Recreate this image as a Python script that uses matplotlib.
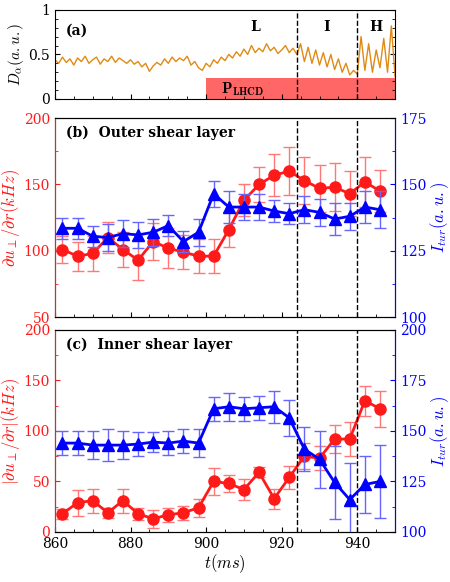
import matplotlib
matplotlib.use("Agg")
import matplotlib.pyplot as plt
import numpy as np

plt.rcParams['font.family'] = 'DejaVu Serif'
plt.rcParams['mathtext.fontset'] = 'cm'

t = [862, 866, 870, 874, 878, 882, 886, 890, 894, 898, 902, 906, 910, 914, 918, 922, 926, 930, 934, 938, 942, 946]

b_red = [101, 96, 98, 110, 101, 93, 107, 102, 99, 96, 96, 116, 138, 150, 157, 160, 153, 147, 148, 143, 152, 145]
b_red_err = [10, 11, 13, 12, 13, 15, 14, 15, 13, 13, 13, 13, 12, 13, 16, 18, 18, 18, 18, 17, 19, 16]
b_blue = [133.5, 133.5, 130.5, 130, 131.5, 131, 132, 134.5, 128.5, 132, 146.5, 141.5, 141.5, 141.5, 140, 139, 140.5, 139.5, 137, 138, 141.5, 140.5]
b_blue_err = [4, 4, 4, 5, 5, 5, 5, 4, 4, 5, 5, 6, 5, 5, 4, 4, 5, 5, 6, 5, 6, 7]

c_red = [18, 29, 31, 19, 31, 18, 13, 17, 19, 24, 50, 48, 42, 59, 33, 54, 75, 73, 92, 92, 130, 122]
c_red_err = [5, 13, 12, 5, 12, 6, 9, 7, 7, 9, 13, 8, 10, 5, 10, 11, 13, 12, 14, 17, 15, 18]
c_blue = [144, 144, 143, 143, 143, 143.5, 144.5, 144, 145, 144, 161, 162, 161, 161.5, 162, 156.5, 141, 136, 124.5, 116, 123.5, 125]
c_blue_err = [6, 6, 7, 8, 7, 6, 5, 6, 6, 7, 6, 7, 6, 6, 8, 9, 11, 14, 18, 18, 14, 18]

da_t = list(range(860, 951))
da = [0.44, 0.40, 0.47, 0.41, 0.45, 0.38, 0.46, 0.42, 0.48, 0.40, 0.44, 0.47, 0.39, 0.45, 0.42, 0.48, 0.41, 0.46, 0.43, 0.40,
      0.44, 0.39, 0.42, 0.36, 0.40, 0.31, 0.37, 0.41, 0.38, 0.45, 0.40, 0.47, 0.42, 0.46, 0.43, 0.48, 0.38, 0.42, 0.35, 0.32,
      0.40, 0.36, 0.44, 0.40, 0.47, 0.43, 0.50, 0.46, 0.53, 0.48, 0.56, 0.50, 0.60, 0.52, 0.57, 0.53, 0.62, 0.54, 0.58, 0.51,
      0.55, 0.60, 0.52, 0.57,
      0.50, 0.62, 0.42, 0.58, 0.40, 0.55, 0.38, 0.52, 0.36, 0.50, 0.33, 0.45, 0.30, 0.40, 0.27, 0.32,
      0.28, 0.70, 0.32, 0.62, 0.30, 0.55, 0.35, 0.68, 0.30, 0.82, 0.25]

RED = '#ff1a1a'
BLUE = '#0000ff'
ORANGE = '#e08a14'

fig = plt.figure(figsize=(4.5, 5.82), dpi=100)
L, W = 0.122, 0.756
axa = fig.add_axes([L, 0.830, W, 0.153])
axb = fig.add_axes([L, 0.455, W, 0.342])
axc = fig.add_axes([L, 0.086, W, 0.347])

# panel a
axa.fill_between([900, 950], 0, 0.23, color='#ff6666', zorder=1, lw=0)
axa.plot(da_t, da, color=ORANGE, lw=1.0, zorder=2)
axa.set_xlim(860, 950)
axa.set_ylim(0, 1)
axa.set_yticks([0, 0.5, 1])
axa.set_yticklabels(['0', '0.5', '1'])
axa.set_ylabel(r'$D_\alpha(a.u.)$', fontsize=11, labelpad=2)
axa.text(863, 0.72, '(a)', fontsize=10, fontweight='bold')
axa.text(913, 0.76, 'L', fontsize=10, fontweight='bold', ha='center')
axa.text(932, 0.76, 'I', fontsize=10, fontweight='bold', ha='center')
axa.text(945, 0.76, 'H', fontsize=10, fontweight='bold', ha='center')
axa.text(904, 0.06, r'$\mathbf{P_{LHCD}}$', fontsize=11)

def panel(ax, red, rerr, blue, berr, ylim2, yt2, rlabel):
    ax2 = ax.twinx()
    ax.errorbar(t, red, yerr=rerr, color=RED, marker='o', ms=8, lw=2, ecolor='#ff7777', elinewidth=1, capsize=4, zorder=3)
    ax2.errorbar(t, blue, yerr=berr, color=BLUE, marker='^', ms=9, lw=2, ecolor='#6666ff', elinewidth=1, capsize=4, zorder=3)
    ax.set_xlim(860, 950)
    ax2.set_ylim(*ylim2)
    ax2.set_yticks(yt2)
    ax.set_ylabel(rlabel, color=RED, fontsize=12, labelpad=1)
    ax2.set_ylabel(r'$I_{tur}(a.u.)$', color=BLUE, fontsize=12, labelpad=1)
    ax.tick_params(axis='y', colors=RED, labelsize=10, direction='in')
    ax2.tick_params(axis='y', colors=BLUE, labelsize=10, direction='in')
    ax2.spines['left'].set_color(RED)
    ax2.spines['right'].set_color(BLUE)
    return ax2

axb2 = panel(axb, b_red, b_red_err, b_blue, b_blue_err, (100, 175), [100, 125, 150, 175],
             r'$\partial u_\perp/\partial r(kHz)$')
axb.set_ylim(50, 200)
axb.set_yticks([50, 100, 150, 200])
axb.text(863, 186, '(b)  Outer shear layer', fontsize=10, fontweight='bold')

axc2 = panel(axc, c_red, c_red_err, c_blue, c_blue_err, (100, 200), [100, 125, 150, 175, 200],
             r'$|\partial u_\perp/\partial r|(kHz)$')
axc.set_ylim(0, 200)
axc.set_yticks([0, 50, 100, 150, 200])
axc.text(863, 181, '(c)  Inner shear layer', fontsize=10, fontweight='bold')
axc.set_xlabel(r'$t(ms)$', fontsize=12, labelpad=1)

for ax in (axa, axb, axc):
    ax.set_xticks([860, 880, 900, 920, 940])
    ax.set_xticks(np.arange(860, 951, 5), minor=True)
    ax.tick_params(axis='x', direction='in', which='both', top=False, labelsize=10)
    for x in (924, 940):
        ax.axvline(x, color='k', ls='--', lw=1, zorder=4)
for ax in (axb2, axc2):
    ax.yaxis.set_minor_locator(matplotlib.ticker.AutoMinorLocator(2))
    ax.tick_params(axis='y', which='minor', direction='in', colors=BLUE)
for ax in (axb, axc):
    ax.yaxis.set_minor_locator(matplotlib.ticker.AutoMinorLocator(2))
    ax.tick_params(axis='y', which='minor', direction='in', colors=RED)
axa.yaxis.set_minor_locator(matplotlib.ticker.AutoMinorLocator(5))
axa.tick_params(axis='y', labelsize=10, right=True, which='both', direction='in')
axa.set_xticklabels([])
axb.set_xticklabels([])

fig.savefig('out.png', dpi=100)
